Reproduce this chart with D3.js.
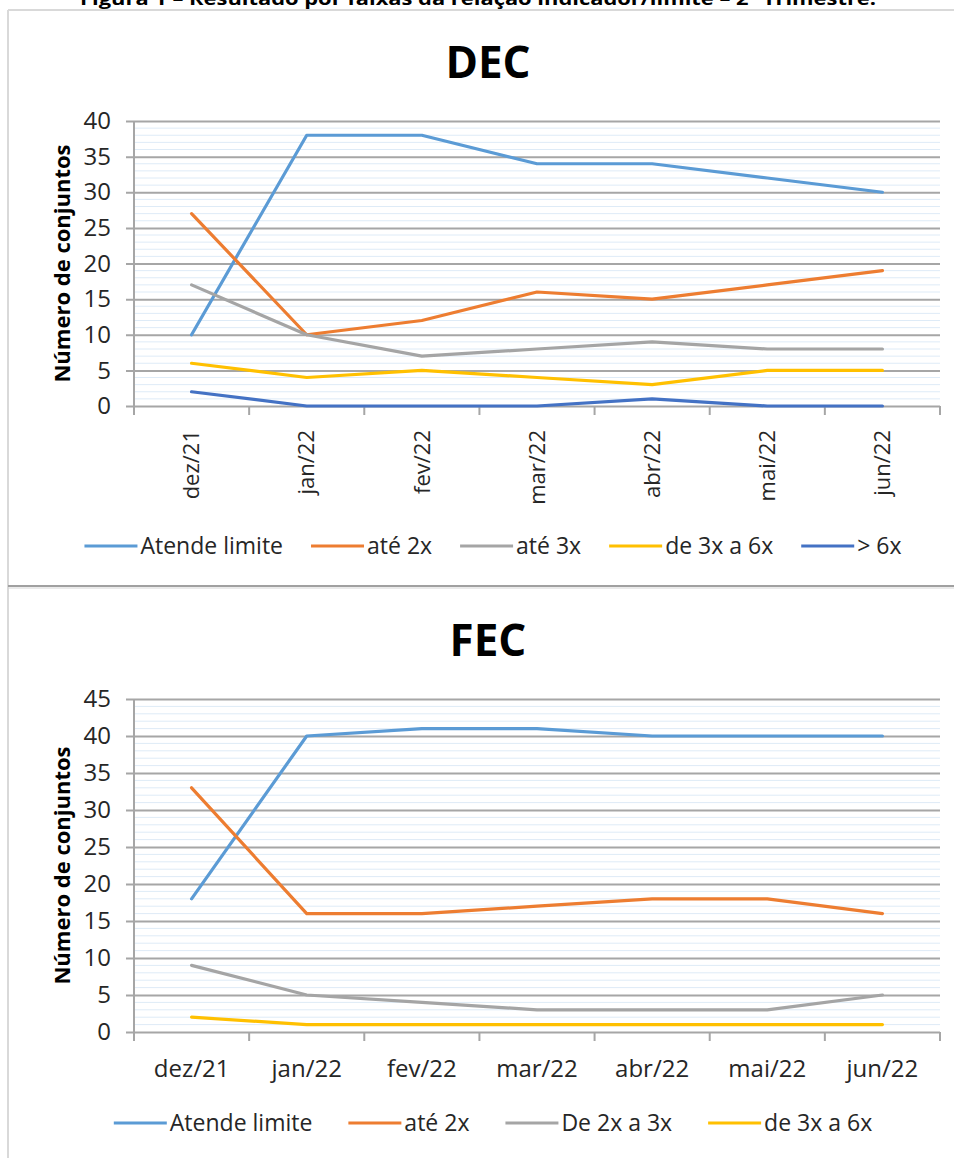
<!DOCTYPE html>
<html>
<head>
<meta charset="utf-8">
<script src="https://cdn.jsdelivr.net/npm/d3@7"></script>
<style>
  body { margin: 0; background: #fff; }
  svg { display: block; font-family: "Open Sans", "Noto Sans", sans-serif; }
</style>
</head>
<body>
<div id="chart"></div>
<script>
'use strict';

var months = ['dez/21', 'jan/22', 'fev/22', 'mar/22', 'abr/22', 'mai/22', 'jun/22'];

// DEC
var decNames  = ['Atende limite', 'até 2x', 'até 3x', 'de 3x a 6x', '> 6x'];
var decAtende = [10, 38, 38, 34, 34, 32, 30];
var decAte2x  = [27, 10, 12, 16, 15, 17, 19];
var decAte3x  = [17, 10, 7, 8, 9, 8, 8];
var dec3a6x   = [6, 4, 5, 4, 3, 5, 5];
var decMais6x = [2, 0, 0, 0, 1, 0, 0];
var decTicks  = [0, 5, 10, 15, 20, 25, 30, 35, 40];

// FEC
var fecNames  = ['Atende limite', 'até 2x', 'De 2x a 3x', 'de 3x a 6x'];
var fecAtende = [18, 40, 41, 41, 40, 40, 40];
var fecAte2x  = [33, 16, 16, 17, 18, 18, 16];
var fec2a3x   = [9, 5, 4, 3, 3, 3, 5];
var fec3a6x   = [2, 1, 1, 1, 1, 1, 1];
var fecTicks  = [0, 5, 10, 15, 20, 25, 30, 35, 40, 45];

var colors = ['#5b9bd5', '#ed7d31', '#a5a5a5', '#ffc000', '#4472c4'];

var svg = d3.select('#chart').append('svg')
    .attr('width', 954)
    .attr('height', 1158);

// caption (cut off at the top in the original)
svg.append('text')
    .attr('x', 478).attr('y', 5)
    .attr('text-anchor', 'middle')
    .style('font-size', '18px').style('font-weight', 'bold')
    .attr('textLength', 796).attr('lengthAdjust', 'spacingAndGlyphs')
    .text('Figura 1 – Resultado por faixas da relação indicador/limite – 2º Trimestre.');

// frames
svg.append('line').attr('x1', 8).attr('x2', 954).attr('y1', 10).attr('y2', 10)
    .attr('stroke', '#d9d9d9').attr('stroke-width', 2);
svg.append('line').attr('x1', 8).attr('x2', 8).attr('y1', 10).attr('y2', 1158)
    .attr('stroke', '#d9d9d9').attr('stroke-width', 2);
svg.append('line').attr('x1', 8).attr('x2', 954).attr('y1', 586).attr('y2', 586)
    .attr('stroke', '#a0a0a0').attr('stroke-width', 2);
svg.append('line').attr('x1', 8).attr('x2', 954).attr('y1', 588).attr('y2', 588)
    .attr('stroke', '#d6d6d6').attr('stroke-width', 1);

function drawChart(config) {
    var g = svg.append('g');
    var yMax = config.ticks[config.ticks.length - 1];

    var x = d3.scaleBand().domain(months).range([134, 940]);
    var y = d3.scaleLinear().domain([0, yMax]).range([config.bottom, config.top]);
    var xc = function(m) { return x(m) + x.bandwidth() / 2; };

    // title
    g.append('text')
        .attr('x', 488).attr('y', config.titleY)
        .attr('text-anchor', 'middle')
        .style('font-size', '44px').style('font-weight', 'bold')
        .text(config.title);

    // minor gridlines
    g.append('g').selectAll('line')
        .data(d3.range(1, yMax).filter(function(v) { return v % 5 !== 0; }))
        .enter().append('line')
        .attr('x1', 134).attr('x2', 940)
        .attr('y1', function(d) { return y(d); })
        .attr('y2', function(d) { return y(d); })
        .attr('stroke', '#deebf7').attr('stroke-width', 1);

    // major gridlines + y axis
    var yAxis = g.append('g')
        .attr('transform', 'translate(134,0)')
        .call(d3.axisLeft(y).tickValues(config.ticks).tickSize(8).tickPadding(15));
    yAxis.select('.domain').attr('stroke', '#a6a6a6').attr('stroke-width', 2)
        .attr('d', 'M0,' + config.top + 'V' + config.bottom);
    yAxis.selectAll('.tick line').attr('x2', 806).attr('x1', -8)
        .attr('stroke', '#a6a6a6').attr('stroke-width', 2);
    yAxis.selectAll('.tick text')
        .style('font-size', '24px').style('font-family', '"Open Sans", sans-serif')
        .attr('fill', '#262626');

    // x axis ticks at band edges
    var edges = months.map(function(m) { return x(m); }).concat([940]);
    g.append('g').selectAll('line')
        .data(edges)
        .enter().append('line')
        .attr('x1', function(d) { return d; }).attr('x2', function(d) { return d; })
        .attr('y1', config.bottom).attr('y2', config.bottom + 9)
        .attr('stroke', '#a6a6a6').attr('stroke-width', 2);

    // x labels
    var xl = g.append('g').selectAll('text')
        .data(months)
        .enter().append('text')
        .attr('fill', '#262626')
        .text(function(d) { return d; });
    if (config.rotate) {
        xl.attr('transform', function(d) { return 'translate(' + xc(d) + ',' + config.labelY + ') rotate(-90)'; })
            .attr('dy', '0.35em')
            .attr('text-anchor', 'end')
            .style('font-size', '22px');
    } else {
        xl.attr('x', function(d) { return xc(d); })
            .attr('y', config.labelY)
            .attr('text-anchor', 'middle')
            .style('font-size', '24px');
    }

    // y axis title
    g.append('text')
        .attr('transform', 'translate(' + 62 + ',' + ((config.top + config.bottom) / 2) + ') rotate(-90)')
        .attr('dy', '0.35em')
        .attr('text-anchor', 'middle')
        .style('font-size', '22px').style('font-weight', 'bold')
        .text('Número de conjuntos');

    // series
    var line = d3.line()
        .x(function(d, i) { return xc(months[i]); })
        .y(function(d) { return y(d); });

    g.append('g').selectAll('path')
        .data(config.series)
        .enter().append('path')
        .attr('d', function(d) { return line(d); })
        .attr('fill', 'none')
        .attr('stroke', function(d, i) { return colors[i]; })
        .attr('stroke-width', 3.2)
        .attr('stroke-linejoin', 'round')
        .attr('stroke-linecap', 'round');

    // legend
    var leg = g.append('g');
    var items = leg.selectAll('g')
        .data(config.names)
        .enter().append('g');
    items.append('line')
        .attr('x1', 0).attr('x2', 53)
        .attr('y1', 0).attr('y2', 0)
        .attr('stroke', function(d, i) { return colors[i]; })
        .attr('stroke-width', 3.2);
    items.append('text')
        .attr('x', 56).attr('dy', '0.35em')
        .style('font-size', '23px')
        .attr('fill', '#262626')
        .text(function(d) { return d; });

    var widths = [];
    items.each(function() {
        widths.push(56 + d3.select(this).select('text').node().getComputedTextLength());
    });
    var gap = config.legendGap;
    var total = d3.sum(widths) + gap * (widths.length - 1);
    var cx = config.legendX - total / 2;
    items.attr('transform', function(d, i) {
        var pos = cx;
        cx += widths[i] + gap;
        return 'translate(' + pos + ',' + config.legendY + ')';
    });
}

drawChart({
    title: 'DEC', titleY: 78,
    top: 121, bottom: 406,
    ticks: decTicks,
    series: [decAtende, decAte2x, decAte3x, dec3a6x, decMais6x],
    names: decNames,
    rotate: true, labelY: 430,
    legendX: 493, legendY: 546, legendGap: 28
});

drawChart({
    title: 'FEC', titleY: 656,
    top: 699, bottom: 1032,
    ticks: fecTicks,
    series: [fecAtende, fecAte2x, fec2a3x, fec3a6x],
    names: fecNames,
    rotate: false, labelY: 1077,
    legendX: 493, legendY: 1123, legendGap: 36
});
</script>
</body>
</html>
